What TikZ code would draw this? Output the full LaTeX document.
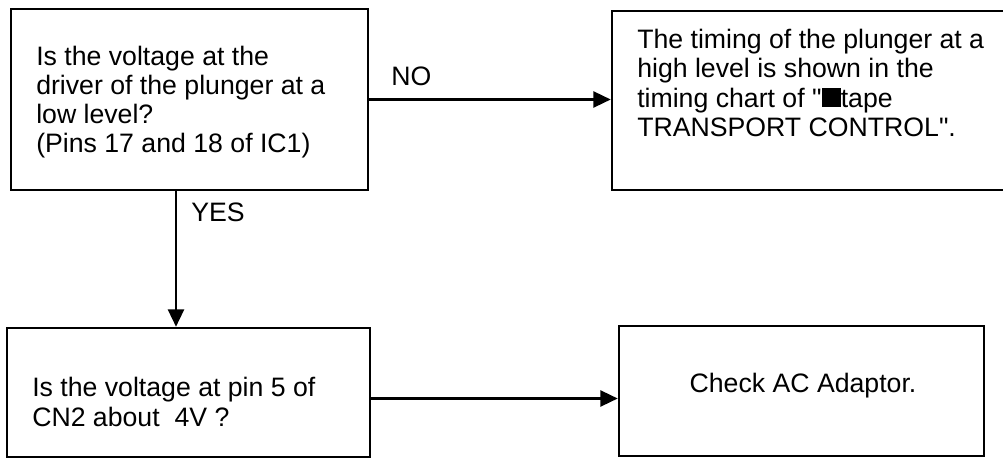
\documentclass[tikz,border=0pt]{standalone}
\usepackage{fontspec}
\setmainfont{Liberation Sans}[Ligatures=TeXOff]
\usetikzlibrary{arrows.meta,calc,fit}
\begin{document}
\begin{tikzpicture}[x=0.75pt,y=-0.75pt,
  box/.style={draw,line width=1.9pt,inner sep=0pt},
  txt/.style={font=\fontsize{20}{21.8}\selectfont,align=left,inner sep=0pt},
  lbl/.style={font=\fontsize{20}{21.8}\selectfont,inner sep=0pt,anchor=west},
  arr/.style={line width=1.8pt,-{Triangle[length=13pt,width=12pt]}}]
\useasboundingbox (0,0) rectangle (1003,459);

% boxes
\node[box,fit={(11,9) (368,190)}] (b1) {};
\node[box,fit={(612,11) (1006,190)}] (b2) {};
\node[box,fit={(7,328) (370,457)}] (b3) {};
\node[box,fit={(619,326) (984,456)}] (b4) {};

% box texts
\node[txt,anchor=west] (t1) at (36,102)
  {Is the voltage at the\\driver of the plunger at a\\low level?\\(Pins 17 and 18 of IC1)};
\node[txt,anchor=west] (t2) at (637,83)
  {The timing of the plunger at a\\high level is shown in the\\timing chart of "\rule{0.72em}{0.72em}tape\\TRANSPORT CONTROL".};
\node[txt,anchor=west] (t3) at (32,402)
  {Is the voltage at pin 5 of\\CN2 about\ \ 4V ?};
\node[txt] (t4) at (803,386) {Check AC Adaptor.};

% connectors
\coordinate (v) at (176,0);
\draw[arr] (b1.east) -- (b1.east -| b2.west);
\draw[arr] (b1.south -| v) -- (b3.north -| v);
\coordinate (h) at ($(b3.east)+(0,6)$);
\draw[arr] (h) -- (h -| b4.west);

% branch labels
\node[lbl] (no) at (391,76) {NO};
\node[lbl] (yes) at (191,212) {YES};
\end{tikzpicture}
\end{document}
